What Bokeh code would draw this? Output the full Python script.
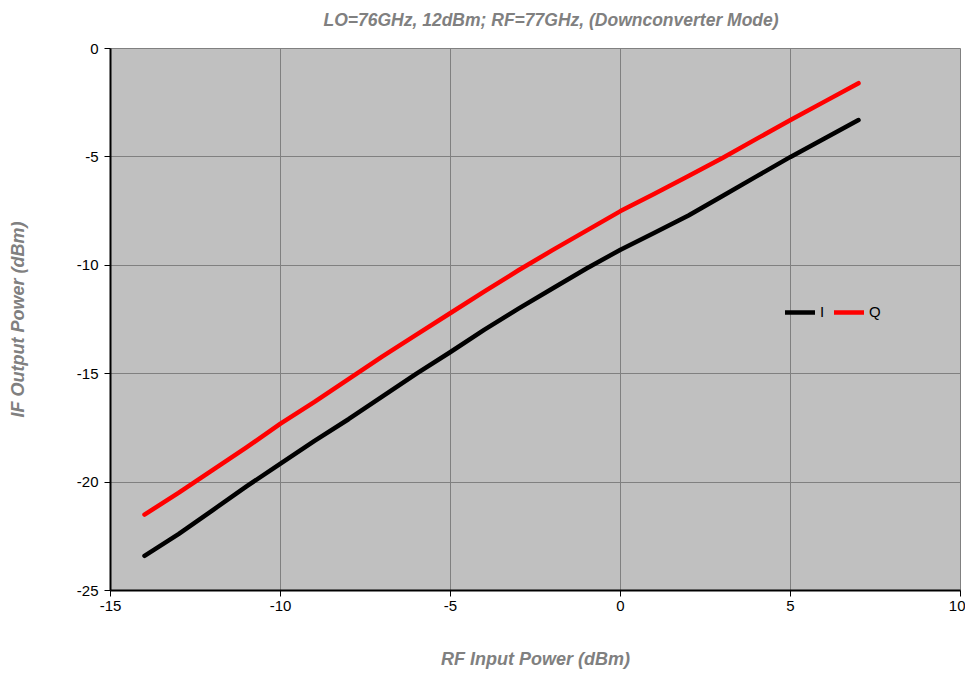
from bokeh.plotting import figure
from bokeh.models import Range1d, Legend, LegendItem, FixedTicker, CustomJSTickFormatter, Title
from bokeh.embed import file_html
from bokeh.resources import INLINE

rf_in = [-14, -13, -12, -11, -10, -9, -8, -7, -6, -5, -4, -3, -2, -1, 0, 1, 2, 3, 4, 5, 6, 7]
i_out = [-23.4, -22.4, -21.3, -20.2, -19.15, -18.1, -17.1, -16.05, -15.0, -14.0, -12.97, -12.0, -11.07, -10.15,
         -9.28, -8.5, -7.7, -6.8, -5.9, -5.0, -4.15, -3.3]
q_out = [-21.5, -20.5, -19.45, -18.4, -17.3, -16.3, -15.25, -14.2, -13.2, -12.2, -11.2, -10.23, -9.3, -8.4,
         -7.5, -6.7, -5.88, -5.05, -4.17, -3.3, -2.45, -1.6]
x_ticks = [-15, -10, -5, 0, 5, 10]
y_ticks = [-25, -20, -15, -10, -5, 0]
title_text = "LO=76GHz, 12dBm; RF=77GHz, (Downconverter Mode)"

FONT = "Liberation Sans"
GRAY = "#808080"

p = figure(width=965, height=673, output_backend="svg", toolbar_location=None,
           x_range=Range1d(-15, 10), y_range=Range1d(-25, 0),
           min_border_left=110, min_border_right=5, min_border_top=48, min_border_bottom=83)

# spacer between the title and the frame
p.add_layout(Title(text=" ", text_font_size="1px", standoff=9), "above")

p.title.text = title_text
p.title.align = "left"
p.title.offset = 213
p.title.standoff = 14
p.title.text_font = FONT
p.title.text_font_style = "bold italic"
p.title.text_font_size = "17.5px"
p.title.text_color = GRAY

p.background_fill_color = "#C0C0C0"
p.border_fill_color = "white"
p.outline_line_color = GRAY
p.outline_line_width = 1

fmt = CustomJSTickFormatter(code="return tick.toString();")
for ax, ticks, label in ((p.xaxis, x_ticks, "RF Input Power (dBm)"), (p.yaxis, y_ticks, "IF Output Power (dBm)")):
    ax.ticker = FixedTicker(ticks=ticks)
    ax.formatter = fmt
    ax.axis_label = label
    ax.axis_label_text_font = FONT
    ax.axis_label_text_font_style = "bold italic"
    ax.axis_label_text_font_size = "18px"
    ax.axis_label_text_color = GRAY
    ax.major_label_text_font = FONT
    ax.major_label_text_font_size = "15px"
    ax.major_label_text_color = "black"
    ax.axis_line_color = "black"
    ax.axis_line_width = 2
    ax.major_tick_line_color = "black"
    ax.major_tick_line_width = 1
    ax.major_tick_out = 6
    ax.major_tick_in = 0
    ax.minor_tick_line_color = None

p.xaxis.axis_label_standoff = 35
p.yaxis.axis_label_standoff = 46
p.xaxis.major_label_standoff = 4
p.yaxis.major_label_standoff = 6

p.xgrid.ticker = FixedTicker(ticks=x_ticks)
p.ygrid.ticker = FixedTicker(ticks=y_ticks)
for g in (p.xgrid, p.ygrid):
    g.grid_line_color = GRAY
    g.grid_line_width = 1

ri = p.line(rf_in, i_out, line_color="black", line_width=4.5, line_cap="round", line_join="round")
rq = p.line(rf_in, q_out, line_color="red", line_width=4.5, line_cap="round", line_join="round")

for lab, rend, loc in (("I", ri, (675, 270)), ("Q", rq, (724, 270))):
    lg = Legend(items=[LegendItem(label=lab, renderers=[rend])],
                orientation="horizontal", location=loc,
                background_fill_alpha=0, border_line_color=None,
                label_text_font=FONT, label_text_font_size="15px", label_text_color="black",
                glyph_width=30, glyph_height=14, label_standoff=5, spacing=0,
                padding=0, margin=0)
    p.add_layout(lg, "center")

open("out.html", "w").write(file_html(p, INLINE))
